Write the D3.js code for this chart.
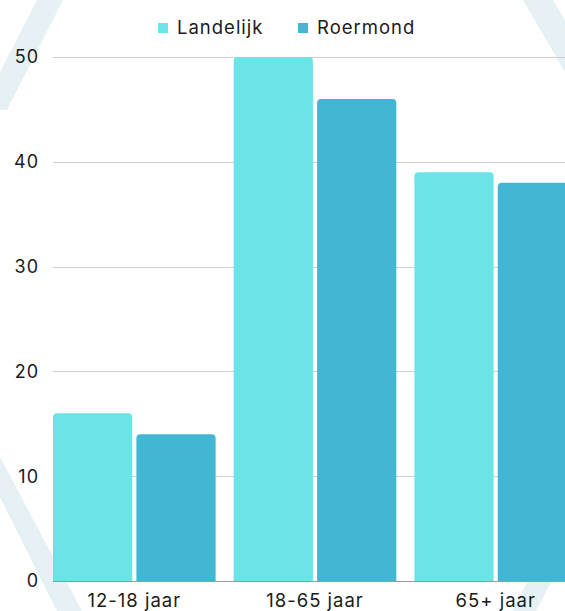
<!DOCTYPE html>
<html>
<head>
<meta charset="utf-8">
<script src="https://cdn.jsdelivr.net/npm/d3@7"></script>
<style>
  html, body { margin: 0; padding: 0; background: #fff; overflow: hidden; }
  svg { display: block; }
  text { font-family: "Inter", "Noto Sans", sans-serif; fill: #1a1a1a; letter-spacing: 1px; }
</style>
</head>
<body>
<script>
const categories = ["12-18 jaar", "18-65 jaar", "65+ jaar"];
const seriesNames = ["Landelijk", "Roermond"];
const landelijk = [16, 50, 39];
const roermond = [14, 46, 38];
const yTicks = [0, 10, 20, 30, 40, 50];
const colors = ["#6be4e8", "#41b7d5"];

const W = 565, H = 611;
const svg = d3.select("body").append("svg").attr("width", W).attr("height", H);

// decorative background stripes
const stripe = "#e5f1f5";
const bg = svg.append("g");
[
  [[37,0],[63,0],[7,110],[0,110],[0,72]],
  [[0,457],[0,497],[57,611],[82,611]],
  [[523,0],[553,0],[565,20],[565,72]],
  [[512,611],[536,611],[565,556],[565,510]]
].forEach(p => bg.append("polygon").attr("points", p.map(d => d.join(",")).join(" ")).attr("fill", stripe));

const margin = { left: 53, top: 57, bottom: 581 };
const y = d3.scaleLinear().domain([0, 50]).range([margin.bottom, margin.top]);
const x0 = d3.scaleBand().domain(categories).range([53, 577]).paddingInner(0.1).paddingOuter(0);
const x1 = d3.scaleBand().domain(seriesNames).range([0, x0.bandwidth()]).paddingInner(0.05).paddingOuter(0);

// gridlines
svg.append("g").selectAll("line").data(yTicks.filter(t => t > 0)).join("line")
  .attr("x1", 53).attr("x2", W)
  .attr("y1", d => Math.round(y(d)) + 0.5).attr("y2", d => Math.round(y(d)) + 0.5)
  .attr("stroke", "#cfcfcf").attr("stroke-width", 1);

// y labels
svg.append("g").selectAll("text").data(yTicks).join("text")
  .attr("x", 39).attr("y", d => y(d)).attr("dy", "0.35em")
  .attr("text-anchor", "end").attr("font-size", 18).attr("letter-spacing", "1.5px").text(d => d);

// baseline
svg.append("line").attr("x1", 53).attr("x2", W)
  .attr("y1", margin.bottom + 0.5).attr("y2", margin.bottom + 0.5)
  .attr("stroke", "#999").attr("stroke-width", 1.2);

// bars
const data = categories.map((c, i) => ({ cat: c, vals: [landelijk[i], roermond[i]] }));
const r = 4;
function barPath(x, w, yTop, yBot) {
  return `M${x},${yBot} V${yTop + r} Q${x},${yTop} ${x + r},${yTop} H${x + w - r} Q${x + w},${yTop} ${x + w},${yTop + r} V${yBot} Z`;
}
const groups = svg.append("g").selectAll("g").data(data).join("g")
  .attr("transform", d => `translate(${x0(d.cat)},0)`);
groups.selectAll("path").data(d => d.vals.map((v, i) => ({ s: seriesNames[i], v, i }))).join("path")
  .attr("d", d => barPath(x1(d.s), x1.bandwidth(), y(d.v), y(0)))
  .attr("fill", d => colors[d.i]);

// x labels
svg.append("g").selectAll("text").data(categories).join("text")
  .attr("x", d => x0(d) + x0.bandwidth() / 2).attr("y", 607)
  .attr("text-anchor", "middle").attr("font-size", 18.5).text(d => d);

// legend
const leg = svg.append("g");
const legX = [158, 298];
seriesNames.forEach((s, i) => {
  leg.append("rect").attr("x", legX[i]).attr("y", 23).attr("width", 10).attr("height", 10).attr("fill", colors[i]);
  leg.append("text").attr("x", legX[i] + 19).attr("y", 28).attr("dy", "0.35em")
    .attr("font-size", 18.5).text(s);
});
</script>
</body>
</html>
